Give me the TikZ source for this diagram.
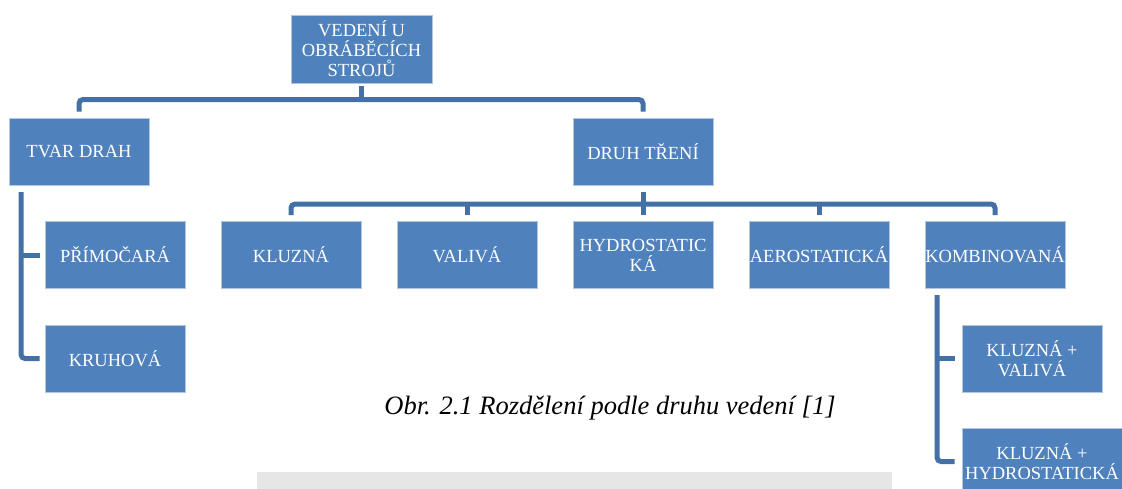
\documentclass[tikz,border=0pt]{standalone}
\usepackage{fontspec}
\setmainfont{Liberation Serif}
\definecolor{boxblue}{RGB}{79,129,189}
\definecolor{connblue}{RGB}{68,112,166}
\definecolor{graybar}{RGB}{230,230,230}
\tikzset{
  box/.style={draw=white!55!boxblue, fill=boxblue, line width=0.8pt, text=white,
    font=\fontsize{18.5}{20}\selectfont, align=center, minimum width=140pt,
    minimum height=67pt, inner sep=0pt},
  conn/.style={draw=connblue, line width=5pt, rounded corners=4pt},
  caption/.style={font=\fontsize{26.5}{30}\selectfont\itshape, inner sep=0pt}
}
\begin{document}
\begin{tikzpicture}[x=1pt,y=-1pt]
\useasboundingbox (0,0) rectangle (1122,488);
\clip (0,0) rectangle (1122,488);
% nodes
\node[box, minimum width=141pt, minimum height=68pt] (root) at (361.5,49) {VEDENÍ U\\OBRÁBĚCÍCH\\STROJŮ};
\node[box] (tvar) at (79,151.5) {TVAR DRAH};
\node[box] (druh) at (643,151.5) {DRUH TŘENÍ};
\node[box] (prim) at (115,255) {PŘÍMOČARÁ};
\node[box] (kruh) at (115,358.5) {KRUHOVÁ};
\node[box] (kluz) at (291,255) {KLUZNÁ};
\node[box] (vali) at (467,255) {VALIVÁ};
\node[box] (hydro) at (643,255) {HYDROSTATIC\\KÁ};
\node[box] (aero) at (819,255) {AEROSTATICKÁ};
\node[box] (komb) at (995,255) {KOMBINOVANÁ};
\node[box] (kv) at (1032,358.5) {KLUZNÁ +\\VALIVÁ};
\node[box, minimum width=160pt] (kh) at (1042,461.5) {KLUZNÁ +\\HYDROSTATICKÁ};
% caption
\node[caption] (cap) at (610,408) {Obr. 2.1 Rozdělení podle druhu vedení [1]};
\fill[graybar] (257,472) rectangle (892,490);
% connectors level 1
\coordinate (r1) at (361.5,99.5);
\draw[conn] ([yshift=-3pt]root.south) -- (r1);
\draw[conn] ([yshift=6pt]tvar.north) |- (r1) -| ([yshift=6pt]druh.north);
% connectors level 2
\coordinate (d1) at (643,204);
\draw[conn] ([yshift=6pt]kluz.north) |- (d1) -| ([yshift=6pt]komb.north);
\draw[conn] ([yshift=-7pt]druh.south) -- ([yshift=6pt]hydro.north);
\draw[conn] ([yshift=6pt]vali.north) -- (vali.north |- d1);
\draw[conn] ([yshift=6pt]aero.north) -- (aero.north |- d1);
% tvar children
\coordinate (t0) at (21,192);
\draw[conn] (t0) |- ([xshift=-5pt]kruh.west);
\draw[conn] (t0 |- prim.west) -- ([xshift=-5pt]prim.west);
% komb children
\coordinate (k0) at (937,295);
\draw[conn] (k0) |- ([xshift=-7pt]kh.west);
\draw[conn] (k0 |- kv.west) -- ([xshift=-7pt]kv.west);
\end{tikzpicture}
\end{document}
